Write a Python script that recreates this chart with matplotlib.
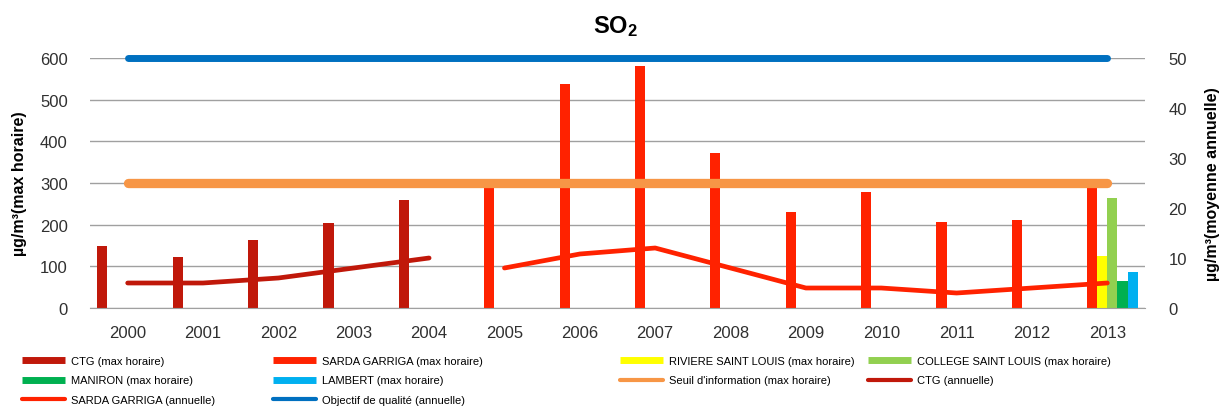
import numpy as np
import matplotlib
matplotlib.use("Agg")
import matplotlib.pyplot as plt
from matplotlib.lines import Line2D

plt.rcParams['font.family'] = ['Liberation Sans', 'DejaVu Sans']
plt.rcParams['mathtext.fontset'] = 'custom'
plt.rcParams['mathtext.rm'] = 'Liberation Sans'
plt.rcParams['mathtext.bf'] = 'Liberation Sans:bold'

# data
years = ['2000', '2001', '2002', '2003', '2004', '2005', '2006',
         '2007', '2008', '2009', '2010', '2011', '2012', '2013']
ctg_max = [150, 122, 163, 204, 259, 0, 0, 0, 0, 0, 0, 0, 0, 0]
sarda_max = [0, 0, 0, 0, 0, 290, 537, 581, 372, 230, 278, 207, 211, 290]
riviere_max = [0] * 13 + [125]
college_max = [0] * 13 + [263]
maniron_max = [0] * 13 + [65]
lambert_max = [0] * 13 + [86]
seuil_info = [300] * 14
ctg_ann = [5, 5, 6, 8, 10]
sarda_ann = [8, 10.8, 12, 8, 4, 4, 3, 4, 5]
objectif = [50] * 14

c_ctg = '#C0180A'
c_sarda = '#FF2200'
c_riv = '#FFFF00'
c_col = '#92D050'
c_man = '#00B050'
c_lam = '#00B0F0'
c_seuil = '#F79646'
c_obj = '#0070C0'

fig = plt.figure(figsize=(12.28, 4.10), dpi=100)
ax = fig.add_axes([90 / 1228, 1 - 309 / 410, 1055 / 1228, 250 / 410])
ax2 = ax.twinx()

x = np.arange(len(years))
w = 0.134
bar_series = [(ctg_max, c_ctg), (sarda_max, c_sarda), (riviere_max, c_riv),
              (college_max, c_col), (maniron_max, c_man), (lambert_max, c_lam)]
for i, (vals, col) in enumerate(bar_series):
    ax.bar(x + (i - 2.5) * w, vals, width=w, color=col, zorder=2, linewidth=0)

ax.plot(x, seuil_info, color=c_seuil, lw=6.7, solid_capstyle='round', zorder=3)

ax2.plot(x[:5], ctg_ann, color=c_ctg, lw=3.4, solid_capstyle='round', zorder=3)
ax2.plot(x[5:], sarda_ann, color=c_sarda, lw=3.4, solid_capstyle='round', zorder=3)
ax2.plot(x, objectif, color=c_obj, lw=5, solid_capstyle='round', zorder=3, clip_on=False)

ax.set_xlim(-0.5, 13.5)
ax.set_ylim(0, 600)
ax2.set_ylim(0, 50)
ax.set_yticks(range(0, 601, 100))
ax2.set_yticks(range(0, 51, 10))
ax.set_xticks(x)
ax.set_xticklabels(years)

ax.grid(axis='y', color='#A0A0A0', lw=1)
ax.set_axisbelow(True)
for a in (ax, ax2):
    for s in ('top', 'left', 'right'):
        a.spines[s].set_visible(False)
    a.spines['bottom'].set_color('#A0A0A0')
    a.tick_params(length=0, labelsize=12, colors='#303030')
ax.tick_params(axis='y', pad=16)
ax.tick_params(axis='x', pad=12)
ax2.tick_params(axis='y', pad=17)
ax2.spines['bottom'].set_visible(False)

ax.set_ylabel('µg/m³(max horaire)', fontsize=11.5, fontweight='bold')
ax.yaxis.set_label_coords(-0.060, 0.5)
ax2.set_ylabel('µg/m³(moyenne annuelle)', fontsize=11.5, fontweight='bold',
               rotation=90)
ax2.yaxis.set_label_coords(1.057, 0.5)

fig.text(615 / 1228, 1 - 27 / 410, r'$\mathbf{SO_2}$', fontsize=17,
         ha='center', va='center')

# legend, four columns laid out like the original
def bar_h(c):
    return Line2D([], [], color=c, lw=5, solid_capstyle='butt')

def line_h(c):
    return Line2D([], [], color=c, lw=3, solid_capstyle='round')

columns = [
    [(bar_h(c_ctg), 'CTG (max horaire)'), (bar_h(c_man), 'MANIRON (max horaire)'),
     (line_h(c_sarda), 'SARDA GARRIGA (annuelle)')],
    [(bar_h(c_sarda), 'SARDA GARRIGA (max horaire)'), (bar_h(c_lam), 'LAMBERT (max horaire)'),
     (line_h(c_obj), 'Objectif de qualité (annuelle)')],
    [(bar_h(c_riv), 'RIVIERE SAINT LOUIS (max horaire)'),
     (line_h(c_seuil), "Seuil d'information (max horaire)")],
    [(bar_h(c_col), 'COLLEGE SAINT LOUIS (max horaire)'), (line_h(c_ctg), 'CTG (annuelle)')],
]
col_x = [22, 273, 620, 868]
for cx, entries in zip(col_x, columns):
    leg = fig.legend([e[0] for e in entries], [e[1] for e in entries],
                     loc='upper left', bbox_to_anchor=(cx / 1228, 1 - 357 / 410),
                     frameon=False, fontsize=8, handlelength=3.9,
                     handletextpad=0.5, labelspacing=0.85, borderpad=0,
                     borderaxespad=0)

fig.savefig('out.png', dpi=100)
